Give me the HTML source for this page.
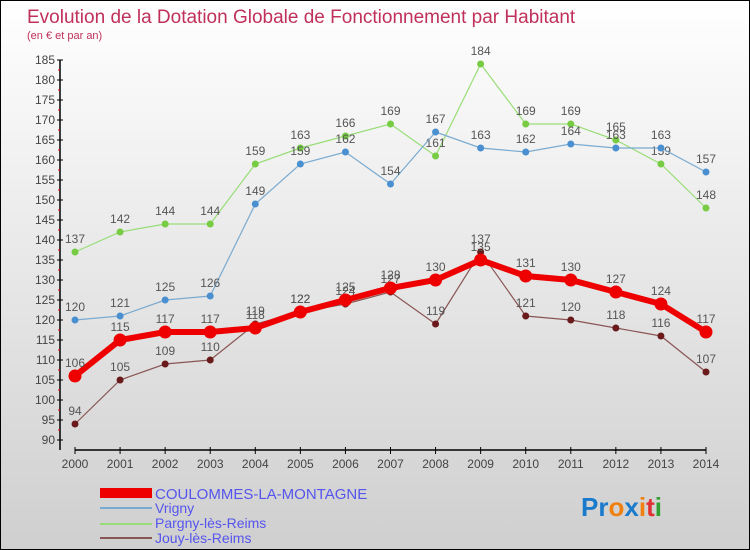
<!DOCTYPE html>
<html><head><meta charset="utf-8"><style>
body{margin:0}
#c{width:748px;height:548px;border:1px solid #000;background:linear-gradient(#fff,#cfcfcf);position:relative;font-family:"Liberation Sans",sans-serif}
</style></head><body>
<div id="c">
<svg width="748" height="548" id="s" style="position:absolute;left:0;top:0">
<text x="26" y="22" font-size="19" fill="#c0305a">Evolution de la Dotation Globale de Fonctionnement par Habitant</text>
<text x="26" y="38" font-size="11" fill="#c0305a">(en € et par an)</text>
<g id="g"></g>
<g>
<rect x="99" y="487" width="52" height="10" fill="#e00"/>
<text x="154" y="498" font-size="15" fill="#5555ee">COULOMMES-LA-MONTAGNE</text>
<line x1="99" x2="151" y1="507" y2="507" stroke="#7aaad0" stroke-width="2"/>
<text x="154" y="512" font-size="14" fill="#5555ee">Vrigny</text>
<line x1="99" x2="151" y1="523" y2="523" stroke="#99dd77" stroke-width="2"/>
<text x="154" y="527" font-size="14" fill="#5555ee">Pargny-lès-Reims</text>
<line x1="99" x2="151" y1="537" y2="537" stroke="#8a5555" stroke-width="2"/>
<text x="154" y="542" font-size="14" fill="#5555ee">Jouy-lès-Reims</text>
</g>
<text x="580" y="515" font-size="26" font-weight="bold"><tspan fill="#1a7acc">Pr</tspan><tspan fill="#f08010">o</tspan><tspan fill="#1a7acc">x</tspan><tspan fill="#f08010">i</tspan><tspan fill="#e03030">t</tspan><tspan fill="#30a030">i</tspan></text>
</svg></div>
<script>
const years=["2000","2001","2002","2003","2004","2005","2006","2007","2008","2009","2010","2011","2012","2013","2014"];
const coulommes=[106,115,117,117,118,122,125,128,130,135,131,130,127,124,117];
const vrigny=[120,121,125,126,149,159,162,154,167,163,162,164,163,163,157];
const pargny=[137,142,144,144,159,163,166,169,161,184,169,169,165,159,148];
const jouy=[94,105,109,110,119,122,124,127,119,137,121,120,118,116,107];
const yTicks=[90,95,100,105,110,115,120,125,130,135,140,145,150,155,160,165,170,175,180,185];
const NS="http://www.w3.org/2000/svg",g=document.getElementById('g');
const X=i=>74+i*(705-74)/(years.length-1);
const Y=v=>439-(v-90)*4;
function mk(t,a,p){const e=document.createElementNS(NS,t);for(const k in a)e.setAttribute(k,a[k]);(p||g).appendChild(e);return e;}
let ax=mk('line',{x1:59,x2:59,y1:Y(185),y2:449,stroke:'#000','stroke-width':1.5});


let bx=mk('line',{x1:X(0),x2:X(14),y1:449,y2:449,stroke:'#000','stroke-width':1.5});


yTicks.forEach(v=>{mk('line',{x1:56,x2:62,y1:Y(v),y2:Y(v),stroke:'#000'});
 if(v<185)mk('line',{x1:57,x2:59,y1:Y(v+2.5),y2:Y(v+2.5),stroke:'#e00'});
 const t=mk('text',{x:54,y:Y(v)+4,'font-size':12,'text-anchor':'end',fill:'#444'});t.textContent=v;
 
 });
years.forEach((y,i)=>{mk('line',{x1:X(i),x2:X(i),y1:446,y2:453,stroke:'#000'});
 const t=mk('text',{x:X(i),y:467,'font-size':12,'text-anchor':'middle',fill:'#444'});t.textContent=y;
 
 });
function series(d,col,dot,w,r,name){
 const p=mk('polyline',{points:d.map((v,i)=>X(i)+','+Y(v)).join(' '),fill:'none',stroke:col,'stroke-width':w});
 
 
 d.forEach((v,i)=>{const c=mk('circle',{cx:X(i),cy:Y(v),r:r,fill:dot});
  
  
  const t=mk('text',{x:X(i),y:Y(v)-9,'font-size':12,'text-anchor':'middle',fill:'#555'});t.textContent=v;
  
  });
}
series(pargny,'#99dd77','#77cc44',1.2,3.5,'pargny');
series(vrigny,'#7aaad0','#4a90d0',1.2,3.5,'vrigny');
series(jouy,'#8a5555','#6a1a1a',1.2,3.5,'jouy');
series(coulommes,'#e00','#e00',6,6.5,'coulommes');
</script>
</body></html>
